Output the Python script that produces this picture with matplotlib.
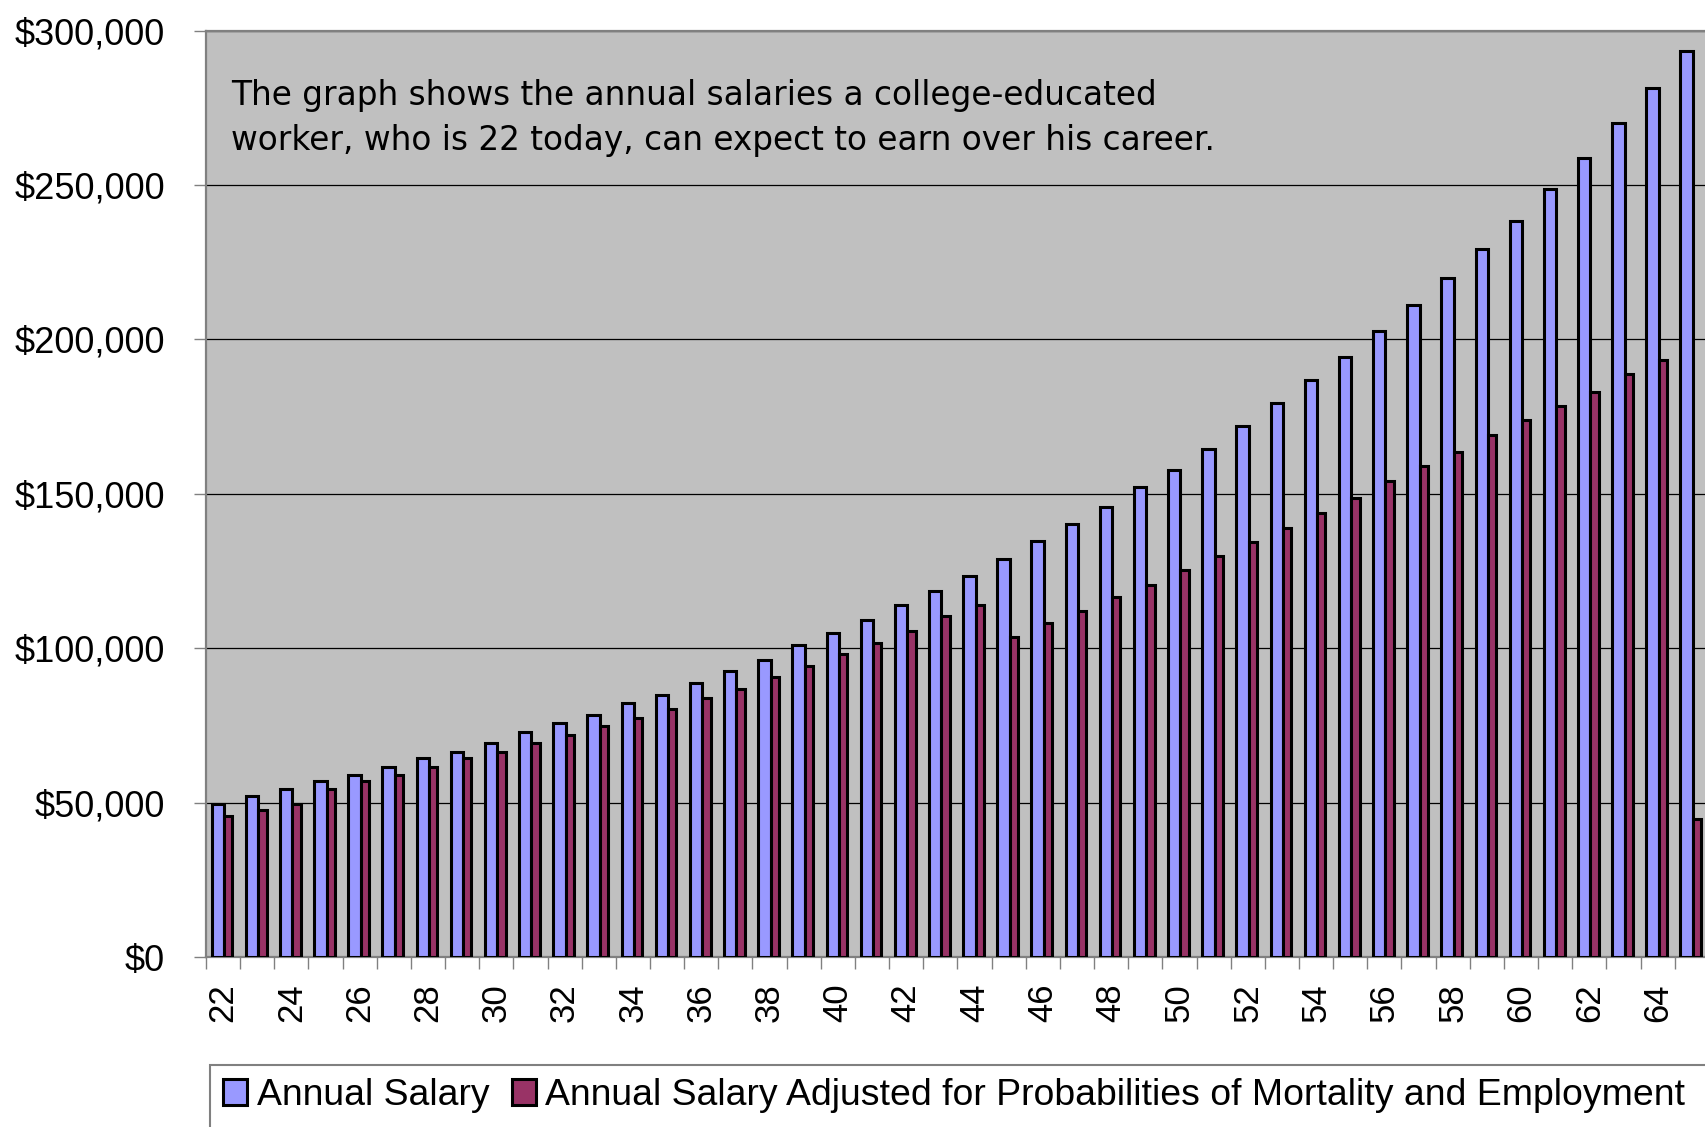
#!/usr/bin/env python3

# Bar chart of the yearly salary a college-educated worker (22 today) can expect up to age 65,
# next to the same salary adjusted for the probabilities of mortality and employment.

import matplotlib
matplotlib.use("Agg")
import matplotlib.pyplot as plt
import matplotlib.patches as mpatches
from matplotlib.ticker import FixedLocator, FuncFormatter, MultipleLocator
import numpy as np

ages = list(range(22, 66))

annual_salary = [
    49600, 52200, 54300, 57100, 58900, 61600, 64400, 66400, 69200, 72900,
    75700, 78500, 82200, 85000, 88800, 92500, 96200, 100900, 104800, 109300,
    114000, 118700, 123300, 128900, 134600, 140100, 145700, 152200, 157800, 164500,
    171900, 179400, 186900, 194400, 202800, 211200, 219900, 229200, 238300, 248600,
    258900, 270000, 281300, 293400,
]

adjusted_salary = [
    45700, 47600, 49500, 54300, 57100, 58900, 61600, 64400, 66400, 69200,
    72000, 74800, 77500, 80300, 84000, 86800, 90600, 94300, 98100, 101700,
    105600, 110300, 114000, 103700, 108300, 112100, 116700, 120500, 125200, 129800,
    134400, 139100, 143800, 148500, 154100, 158900, 163500, 169100, 173800, 178400,
    183100, 188800, 193400, 44800,
]

series_labels = [
    "Annual Salary",
    "Annual Salary Adjusted for Probabilities of Mortality and Employment",
]

note_lines = [
    "The graph shows the annual salaries a college-educated",
    "worker, who is 22 today, can expect to earn over his career.",
]

SALARY_COLOR = "#9999FF"
ADJUSTED_COLOR = "#993366"
PLOT_BG = "#C0C0C0"
AXIS_GRAY = "#808080"
ARIAL = "Liberation Sans"


def money(v, pos):
    return "${:,.0f}".format(v)


def main():
    fig = plt.figure(figsize=(17.05, 11.27), dpi=100)
    # plot area runs slightly past the right edge of the canvas
    ax = fig.add_axes([0.1208, 0.1508, 0.8815, 0.8220])
    ax.set_facecolor(PLOT_BG)

    x = np.arange(len(ages))
    ax.bar(x - 0.333, annual_salary, width=0.363, align="edge", color=SALARY_COLOR,
           edgecolor="black", linewidth=2.2, zorder=3, label=series_labels[0])
    ax.bar(x + 0.030, adjusted_salary, width=0.243, align="edge", color=ADJUSTED_COLOR,
           edgecolor="black", linewidth=2.2, zorder=3, label=series_labels[1])

    ax.set_xlim(-0.5, len(ages) - 0.5)
    ax.set_ylim(0, 300000)

    # y axis: dollar amounts every 50k with black gridlines
    ax.yaxis.set_major_locator(MultipleLocator(50000))
    ax.yaxis.set_major_formatter(FuncFormatter(money))
    ax.yaxis.grid(True, color="black", linewidth=0.9, zorder=1)
    ax.tick_params(axis="y", direction="out", length=8.6, width=1.0, color=AXIS_GRAY,
                   pad=21, labelsize=26)

    # x axis: tick marks between categories, labels on every second age
    ax.xaxis.set_major_locator(FixedLocator(x[::2]))
    ax.set_xticklabels([str(a) for a in ages[::2]], rotation=90)
    ax.xaxis.set_minor_locator(FixedLocator(np.arange(-0.5, len(ages), 1.0)))
    ax.tick_params(axis="x", which="major", length=0, pad=19, labelsize=25)
    ax.tick_params(axis="x", which="minor", direction="out", length=8.6, width=1.0,
                   color=AXIS_GRAY)

    for lbl in ax.get_xticklabels() + ax.get_yticklabels():
        lbl.set_fontfamily(ARIAL)

    for side in ["left", "bottom", "top", "right"]:
        ax.spines[side].set_color(AXIS_GRAY)
        ax.spines[side].set_linewidth(1.6)

    # note in the upper left of the plot area
    ax.text(0.0166, 0.920, note_lines[0], transform=ax.transAxes, fontsize=23.6,
            family="DejaVu Sans", va="baseline", ha="left", zorder=5)
    ax.text(0.0166, 0.871, note_lines[1], transform=ax.transAxes, fontsize=23.6,
            family="DejaVu Sans", va="baseline", ha="left", zorder=5)

    # legend along the bottom, its box cut off by the canvas edges
    handles, labels = ax.get_legend_handles_labels()
    fig.legend(handles, labels, loc="center left", bbox_to_anchor=(0.1308, 0.028),
               ncol=2, frameon=False, borderpad=0, borderaxespad=0,
               handlelength=0.65, handleheight=0.68, handletextpad=0.25,
               columnspacing=0.6, prop={"family": ARIAL, "size": 26.9})
    box = mpatches.Rectangle((210 / 1705, -0.1), 1.0, 0.1 + 1 - 1064.6 / 1127,
                             transform=fig.transFigure, fill=False,
                             edgecolor=AXIS_GRAY, linewidth=1.5)
    fig.add_artist(box)

    fig.savefig("out.png", dpi=100)


if __name__ == "__main__":
    main()
